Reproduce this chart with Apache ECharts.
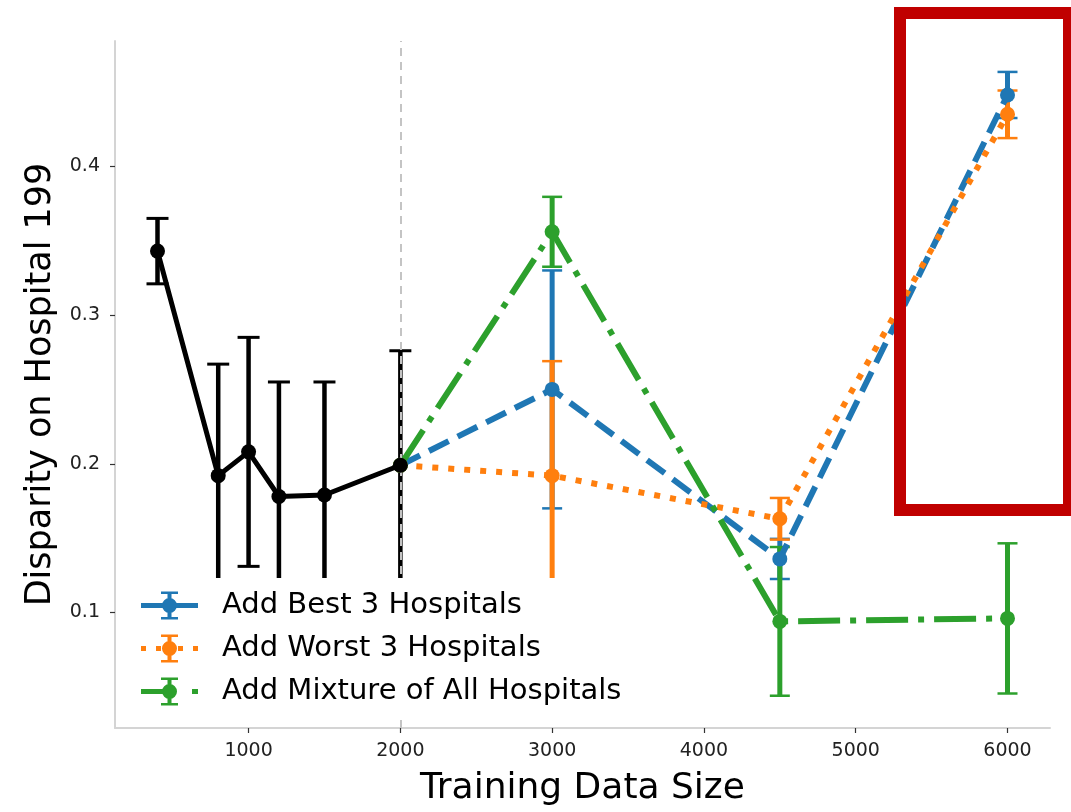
<!DOCTYPE html>
<html>
<head>
<meta charset="utf-8">
<script src="https://cdn.jsdelivr.net/npm/echarts@6/dist/echarts.min.js"></script>
<style>
  html, body { margin: 0; padding: 0; background: #ffffff; }
  #chart { width: 1071px; height: 812px; }
</style>
</head>
<body>
<div id="chart"></div>
<script>
// Baseline: training on the original hospital data at increasing sizes
const sizesBase = [400, 800, 1000, 1200, 1500, 2000];
const baseMean  = [0.343, 0.192, 0.208, 0.178, 0.179, 0.199];
const baseErr   = [0.022, 0.075, 0.077, 0.077, 0.076, 0.077];

// Continuations from 2000 samples with extra hospitals added
const sizesAdded = [2000, 3000, 4500, 6000];
const bestMean   = [0.199, 0.250, 0.136, 0.448];
const bestErr    = [0, 0.080, 0.0135, 0.0155];
const worstMean  = [0.199, 0.192, 0.163, 0.435];
const worstErr   = [0, 0.077, 0.014, 0.016];
const mixMean    = [0.199, 0.356, 0.094, 0.096];
const mixErr     = [0, 0.0235, 0.050, 0.0505];

const seriesNames = ['Add Best 3 Hospitals', 'Add Worst 3 Hospitals', 'Add Mixture of All Hospitals'];
const xTicks = [1000, 2000, 3000, 4000, 5000, 6000];
const yTicks = [0.1, 0.2, 0.3, 0.4];
const splitSize = 2000;

const BLUE = '#1f77b4', ORANGE = '#ff7f0e', GREEN = '#2ca02c', BLACK = '#000000';
const FONT = 'DejaVu Sans';

// Legend glyphs: error bar with caps and marker over the line style of each series
const ICON_BAR = 'M26.5 1H30.5V27H26.5Z M20 0H37V2.5H20Z M20 25.5H37V28H20Z ' +
                 'M21 14A7.5 7.5 0 1 1 36 14A7.5 7.5 0 1 1 21 14Z';
const ICONS = [
  'path://M0 11.5H57V16.5H0Z ' + ICON_BAR,
  'path://M0 11.5H5V16.5H0Z M15 11.5H20V16.5H15Z M37 11.5H42V16.5H37Z M52 11.5H57V16.5H52Z ' + ICON_BAR,
  'path://M0 11.5H30V16.5H0Z M51 11.5H57V16.5H51Z ' + ICON_BAR
];

function rows(xs, ys, es) {
  return xs.map((x, i) => es ? [x, ys[i], es[i]] : [x, ys[i]]);
}

// Vertical error bar with caps, placed through the axis scales
function errorBars(name, xs, ys, es, color, lw, capW, capLw) {
  return {
    type: 'custom',
    name: name,
    z: 2,
    silent: true,
    data: rows(xs, ys, es),
    encode: { x: 0, y: 1 },
    renderItem: function (params, api) {
      const x = api.value(0), y = api.value(1), e = api.value(2);
      if (!e) return null;
      const top = api.coord([x, y + e]);
      const bot = api.coord([x, y - e]);
      const h = capW / 2;
      return {
        type: 'group',
        children: [
          { type: 'line', shape: { x1: top[0], y1: top[1], x2: bot[0], y2: bot[1] },
            style: { stroke: color, lineWidth: lw } },
          { type: 'line', shape: { x1: top[0] - h, y1: top[1], x2: top[0] + h, y2: top[1] },
            style: { stroke: color, lineWidth: capLw } },
          { type: 'line', shape: { x1: bot[0] - h, y1: bot[1], x2: bot[0] + h, y2: bot[1] },
            style: { stroke: color, lineWidth: capLw } }
        ]
      };
    }
  };
}

function lineSeries(name, xs, ys, color, width, dash, z) {
  return {
    type: 'line',
    name: name,
    z: z,
    data: rows(xs, ys),
    symbol: 'circle',
    symbolSize: 15,
    showAllSymbol: true,
    itemStyle: { color: color, borderWidth: 0 },
    lineStyle: { color: color, width: width, type: dash, cap: 'butt' },
    emphasis: { disabled: true },
    animation: false
  };
}

const chart = echarts.init(document.getElementById('chart'), null, { renderer: 'canvas' });

chart.setOption({
  animation: false,
  backgroundColor: '#ffffff',
  grid: { left: 115, right: 21, top: 41, bottom: 80 },
  xAxis: {
    type: 'value',
    min: 120,
    max: 6280,
    name: 'Training Data Size',
    nameLocation: 'middle',
    nameGap: 43,
    nameTextStyle: { fontFamily: FONT, fontSize: 36, color: '#000' },
    splitLine: { show: false },
    axisLine: { lineStyle: { color: '#d4d4d4', width: 2 } },
    axisTick: { customValues: xTicks, length: 5, lineStyle: { color: '#333', width: 1.2 } },
    axisLabel: { customValues: xTicks, margin: 14, fontFamily: FONT, fontSize: 19, color: '#222',
                 formatter: v => String(Math.round(v)) }
  },
  yAxis: {
    type: 'value',
    min: 0.0223,
    max: 0.4843,
    name: 'Disparity on Hospital 199',
    nameLocation: 'middle',
    nameGap: 57,
    nameTextStyle: { fontFamily: FONT, fontSize: 35, color: '#000' },
    splitLine: { show: false },
    axisLine: { show: true, lineStyle: { color: '#d4d4d4', width: 2 } },
    axisTick: { show: true, customValues: yTicks, length: 5, lineStyle: { color: '#333', width: 1.2 } },
    axisLabel: { customValues: yTicks, margin: 15, fontFamily: FONT, fontSize: 19, color: '#222',
                 formatter: v => v.toFixed(1) }
  },
  legend: {
    data: seriesNames.map((n, i) => ({ name: n, icon: ICONS[i] })),
    orient: 'vertical',
    left: 125,
    top: 578,
    z: 20,
    backgroundColor: '#ffffff',
    padding: [13, 14, 8, 16],
    itemWidth: 57,
    itemHeight: 28,
    itemGap: 14,
    selectedMode: false,
    itemStyle: { borderWidth: 0 },
    textStyle: { fontFamily: FONT, fontSize: 29, color: '#000', padding: [0, 0, 0, 19] }
  },
  graphic: [{
    type: 'rect',
    z: 50,
    silent: true,
    shape: { x: 900, y: 13, width: 169, height: 497 },
    style: { fill: 'none', stroke: '#c00000', lineWidth: 12 }
  }],
  series: [
    errorBars('base-err', sizesBase, baseMean, baseErr, BLACK, 4.5, 22, 3),
    errorBars('best-err', sizesAdded, bestMean, bestErr, BLUE, 5, 20, 2.5),
    errorBars('worst-err', sizesAdded, worstMean, worstErr, ORANGE, 5, 20, 2.5),
    errorBars('mix-err', sizesAdded, mixMean, mixErr, GREEN, 5, 20, 2.5),
    {
      type: 'line',
      name: 'split',
      z: 3,
      data: [],
      markLine: {
        silent: true,
        symbol: 'none',
        label: { show: false },
        lineStyle: { color: '#c4c4c4', width: 2, type: [8, 6] },
        data: [{ xAxis: splitSize }]
      }
    },
    lineSeries(seriesNames[0], sizesAdded, bestMean, BLUE, 6, [22, 10], 4),
    lineSeries(seriesNames[1], sizesAdded, worstMean, ORANGE, 6, [6, 10], 4),
    lineSeries(seriesNames[2], sizesAdded, mixMean, GREEN, 6, [42, 10, 6, 10], 4),
    lineSeries('Baseline', sizesBase, baseMean, BLACK, 5, 'solid', 5)
  ]
});
</script>
</body>
</html>
